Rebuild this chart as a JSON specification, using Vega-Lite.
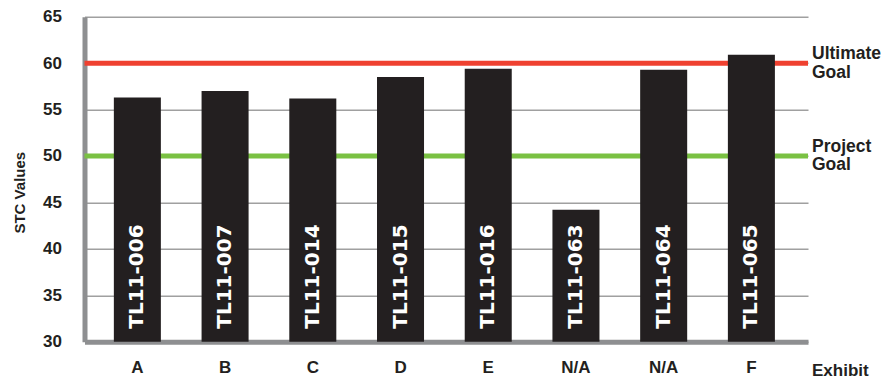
{
  "$schema": "https://vega.github.io/schema/vega-lite/v6.json",
  "width": 723.5,
  "height": 325,
  "autosize": "none",
  "padding": {"left": 84.5, "top": 16.7, "right": 79, "bottom": 40.3},
  "background": "white",
  "config": {
    "view": {"stroke": null},
    "font": "Liberation Sans",
    "axis": {"titleFontSize": 15}
  },
  "datasets": {
    "bars": [
      {"key": "TL11-006|A", "tl": "TL11-006", "stc": 56.3},
      {"key": "TL11-007|B", "tl": "TL11-007", "stc": 57.0},
      {"key": "TL11-014|C", "tl": "TL11-014", "stc": 56.2},
      {"key": "TL11-015|D", "tl": "TL11-015", "stc": 58.5},
      {"key": "TL11-016|E", "tl": "TL11-016", "stc": 59.4},
      {"key": "TL11-063|N/A", "tl": "TL11-063", "stc": 44.2},
      {"key": "TL11-064|N/A", "tl": "TL11-064", "stc": 59.3},
      {"key": "TL11-065|F", "tl": "TL11-065", "stc": 60.9}
    ],
    "goals": [
      {"goal": "Ultimate", "value": 60, "label": "Ultimate\nGoal"},
      {"goal": "Project", "value": 50, "label": "Project\nGoal"}
    ]
  },
  "layer": [
    {
      "data": {"name": "goals"},
      "mark": {"type": "rule", "strokeWidth": 5},
      "encoding": {
        "y": {"field": "value", "type": "quantitative", "scale": {"domain": [30, 65], "nice": false, "zero": false}},
        "stroke": {"field": "goal", "type": "nominal", "scale": {"domain": ["Ultimate", "Project"], "range": ["#ef4130", "#7ac143"]}, "legend": null}
      }
    },
    {
      "data": {"name": "goals"},
      "mark": {"type": "text", "align": "left", "baseline": "middle", "dx": 4, "dy": -9, "lineBreak": "\n", "lineHeight": 18.5, "fontSize": 17.5, "fontWeight": "bold", "font": "Liberation Sans", "color": "#231f20"},
      "encoding": {
        "x": {"value": "width"},
        "y": {"field": "value", "type": "quantitative"},
        "text": {"field": "label"}
      }
    },
    {
      "data": {"name": "bars"},
      "mark": {"type": "bar", "color": "#231f20"},
      "encoding": {
        "x": {
          "field": "key", "type": "nominal", "sort": null,
          "scale": {"paddingInner": 0.464, "paddingOuter": 0.356, "align": 0.47},
          "axis": {
            "title": "Exhibit",
            "titleX": 727, "titleY": 33.5, "titleAlign": "left", "titleBaseline": "alphabetic", "titleAnchor": null,
            "titleFont": "Liberation Sans", "titleFontSize": 17, "titleFontWeight": "bold", "titleColor": "#231f20",
            "labelExpr": "split(datum.value, '|')[1]",
            "labelAngle": 0, "labelFont": "Liberation Sans", "labelFontSize": 17, "labelFontWeight": "bold", "labelColor": "#231f20",
            "labelPadding": 18, "labelBaseline": "top",
            "ticks": false, "grid": false,
            "domainColor": "#8e8f91", "domainWidth": 5
          }
        },
        "y": {
          "field": "stc", "type": "quantitative",
          "scale": {"domain": [30, 65], "nice": false, "zero": false},
          "axis": {
            "title": "STC Values",
            "titleX": -60.5, "titleY": 175.5, "titleAngle": -90, "titleAlign": "center", "titleBaseline": "alphabetic", "titleAnchor": null,
            "titleFont": "Liberation Sans", "titleFontSize": 15, "titleFontWeight": "bold", "titleColor": "#231f20", "titleLimit": 200,
            "values": [30, 35, 40, 45, 50, 55, 60, 65],
            "labelFont": "Liberation Sans", "labelFontSize": 17, "labelFontWeight": "bold", "labelColor": "#231f20",
            "labelPadding": 23, "ticks": false,
            "grid": true, "gridColor": "#a0a0a0", "gridWidth": 1.5,
            "domainColor": "#8e8f91", "domainWidth": 5
          }
        },
        "y2": {"datum": 30}
      }
    },
    {
      "data": {"name": "bars"},
      "mark": {"type": "text", "angle": 270, "align": "left", "baseline": "middle", "dx": 13, "font": "DejaVu Sans", "fontSize": 20, "fontWeight": "bold", "color": "white"},
      "encoding": {
        "x": {"field": "key", "type": "nominal", "sort": null, "bandPosition": 0.5},
        "y": {"datum": 30},
        "text": {"field": "tl"}
      }
    }
  ]
}
